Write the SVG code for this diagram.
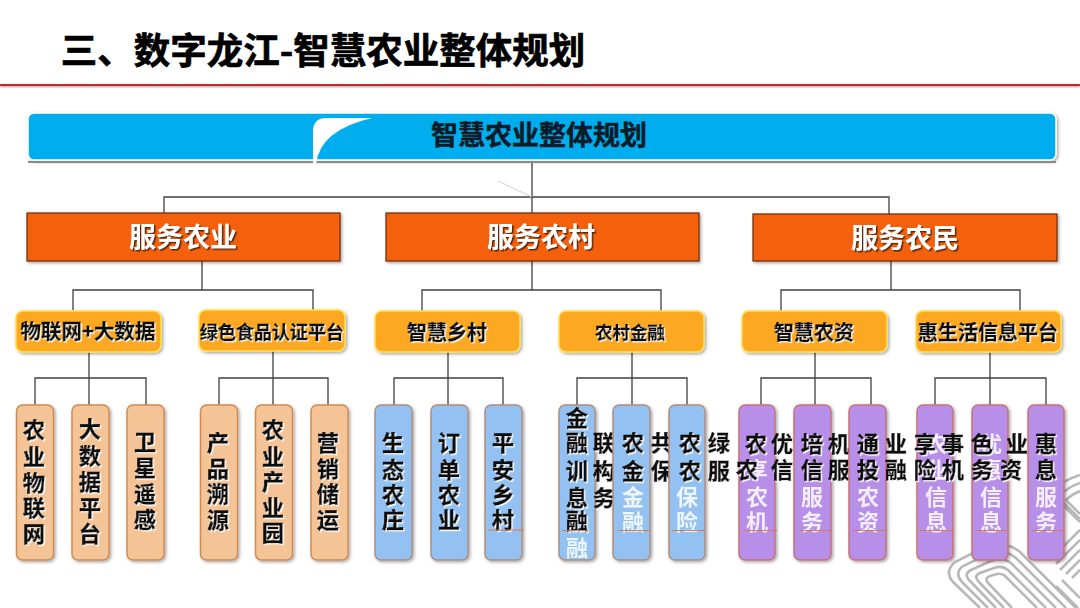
<svg xmlns="http://www.w3.org/2000/svg" width="1080" height="608" viewBox="0 0 1080 608">
<style>
text{font-family:"Noto Sans CJK SC","Liberation Sans",sans-serif;font-weight:700;text-anchor:middle}
.conn{fill:none;stroke:#404040;stroke-width:1.3}
.swirl{fill:none;stroke:#b8b8b8;stroke-width:2.6}
.t1{font-size:27px;fill:#fff;filter:url(#ds)}
.t2{font-size:20px;fill:#111;stroke:#111;stroke-width:.4;filter:url(#ws)}
.t3{font-size:22px;fill:#0a0a0a;stroke:#0a0a0a;stroke-width:.5;filter:url(#ws)}
.g{font-size:22px;fill:#fff;opacity:.85}
.l1{fill:#f5610f;stroke:#6b2a08;stroke-width:1.2;filter:url(#box)}
.l2{fill:#fda823;stroke:#ffdf4d;stroke-width:1.5;filter:url(#box)}
.tan{fill:#f4c497;stroke:#cf8a55;stroke-width:1.5;filter:url(#box)}
.blue{fill:#93c2f2;stroke:#ad8f80;stroke-width:1.5;filter:url(#box)}
.pur{fill:#b78fe8;stroke:#c9727a;stroke-width:1.5;filter:url(#box)}
.tick{stroke:#d97a50;stroke-width:1}
</style>
<defs>
<filter id="box" x="-20%" y="-20%" width="140%" height="140%"><feDropShadow dx="1.5" dy="1.5" stdDeviation="1.5" flood-color="#000" flood-opacity=".35"/></filter>
<filter id="ds" x="-10%" y="-10%" width="125%" height="125%"><feDropShadow dx="1.5" dy="1.5" stdDeviation=".6" flood-color="#3a2008" flood-opacity=".85"/></filter>
<filter id="ws" x="-10%" y="-10%" width="125%" height="125%"><feDropShadow dx="1.2" dy="1.2" stdDeviation=".4" flood-color="#fff" flood-opacity="1"/></filter>
<filter id="ls" x="-5%" y="-200%" width="110%" height="500%"><feDropShadow dx="0" dy="1" stdDeviation="1" flood-color="#000" flood-opacity=".4"/></filter>
</defs>
<rect width="1080" height="608" fill="#fff"/>
<g id="swirl">
<path class="swirl" d="M980,608L953,582Q944,572 955,562L985,547Q1005,540 1020,552L1076,608"/>
<path class="swirl" d="M988,608L962,582Q954,573 963,566L988,554Q1004,548 1016,558L1066,608"/>
<path class="swirl" d="M996,608L970,581Q963,574 971,570L991,561Q1003,556 1012,564L1056,608"/>
<path class="swirl" d="M1004,608L979,582Q973,576 980,573L994,568Q1002,565 1008,570L1046,608"/>
<path class="swirl" d="M1012,608L988,583Q984,578 990,576L997,574Q1002,573 1005,576L1037,608"/>
<path class="swirl" d="M1080,475Q1064,480 1050,492L1080,522"/>
<path class="swirl" d="M1080,483Q1068,487 1058,497L1080,519"/>
<path class="swirl" d="M1080,491Q1072,494 1066,500L1080,514"/>
<path class="swirl" d="M1056,554L1080,530"/>
<path class="swirl" d="M1056,564L1080,540"/>
<path class="swirl" d="M1060,570L1080,550"/>
<path class="swirl" d="M1066,574L1080,560"/>
<path class="swirl" d="M1072,578L1080,570"/>
<path class="swirl" d="M1062,580L1080,598"/>
<path class="swirl" d="M1056,586L1078,608"/>
</g>
<g id="title">
<text x="323" y="64" style="font-size:36.500px;fill:#000;stroke:#000;stroke-width:.7">三、数字龙江-智慧农业整体规划</text>
<rect x="0" y="84" width="1080" height="2" fill="#c22a30" filter="url(#ls)"/>
</g>
<g id="connectors">
<path class="conn" d="M532,160V213M164,213V197H889V214"/>
<path d="M498,181L532,197" fill="none" stroke="#d0d0d0" stroke-width="1"/>
<path class="conn" d="M202,261V290M73,310V290H313V310"/>
<path class="conn" d="M532,261V290M422,311V290H661V311"/>
<path class="conn" d="M891,261V290M781,311V290H1020V311"/>
<path class="conn" d="M89,352V405M35,405V378H146V405"/>
<path class="conn" d="M273,351V405M219,405V378H328V405"/>
<path class="conn" d="M448,352V405M394,405V378H503V405"/>
<path class="conn" d="M632,352V405M577,405V378H687V405"/>
<path class="conn" d="M815,352V405M761,405V378H871V405"/>
<path class="conn" d="M990,352V405M935,405V378H1046V405"/>
</g>
<g id="root">
<rect x="28" y="113" width="1028" height="47" rx="6" fill="#00aeef" stroke="#fff" stroke-width="1.5" filter="url(#box)"/>
<path d="M28,161H1056V163H28Z" fill="#8a8a8a"/>
<path d="M372,118H326Q314,118 313,130V164H316Q320,130 372,118Z" fill="#fff"/>
<text x="539" y="145" style="font-size:27px;fill:#0b1b28;stroke:#0b1b28;stroke-width:.5">智慧农业整体规划</text>
</g>
<g id="n-agri"><rect class="l1" x="27" y="213" width="313" height="48"/><text class="t1" x="183" y="247">服务农业</text></g>
<g id="n-village"><rect class="l1" x="386" y="213" width="313" height="48"/><text class="t1" x="541" y="247">服务农村</text></g>
<g id="n-farmer"><rect class="l1" x="753" y="214" width="304" height="47"/><text class="t1" x="905" y="248">服务农民</text></g>
<g id="p1"><rect class="l2" x="16" y="311" width="145" height="41" rx="7"/><text class="t2" x="88" y="339" style="font-size:20.500px">物联网+大数据</text></g>
<g id="p2"><rect class="l2" x="199" y="310" width="146" height="41" rx="7"/><text class="t2" x="272" y="339" style="font-size:18px">绿色食品认证平台</text></g>
<g id="p3"><rect class="l2" x="375" y="311" width="145" height="41" rx="7"/><text class="t2" x="447" y="340">智慧乡村</text></g>
<g id="p4"><rect class="l2" x="559" y="311" width="145" height="41" rx="7"/><text class="t2" x="630" y="339" style="font-size:17.500px">农村金融</text></g>
<g id="p5"><rect class="l2" x="742" y="311" width="145" height="41" rx="7"/><text class="t2" x="814" y="340">智慧农资</text></g>
<g id="p6"><rect class="l2" x="916" y="311" width="145" height="41" rx="7"/><text class="t2" x="988" y="340">惠生活信息平台</text></g>
<g id="c1"><rect class="tan" x="16.500" y="405" width="37" height="155" rx="6"/><text class="t3" x="34 34 34 34 34" y="438 465 491 516 542">农业物联网</text></g>
<g id="c2"><rect class="tan" x="72" y="405" width="37" height="155" rx="6"/><text class="t3" x="90 90 90 90 90" y="437 464 490 516 542">大数据平台</text></g>
<g id="c3"><rect class="tan" x="127" y="405" width="37" height="155" rx="6"/><text class="t3" x="145 145 145 145" y="450 476 502 528">卫星遥感</text></g>
<g id="c4"><rect class="tan" x="200.500" y="405" width="37" height="155" rx="6"/><text class="t3" x="218 218 218 218" y="451 477 502 528">产品溯源</text></g>
<g id="c5"><rect class="tan" x="255.500" y="405" width="37" height="155" rx="6"/><text class="t3" x="273 273 273 273 273" y="438 465 490 516 541">农业产业园</text></g>
<g id="c6"><rect class="tan" x="311" y="405" width="37" height="155" rx="6"/><text class="t3" x="328 328 328 328" y="451 477 502 528">营销储运</text></g>
<g id="c7"><rect class="blue" x="375" y="405" width="37" height="155" rx="6"/><text class="t3" x="393 393 393 393" y="451 478 503 528">生态农庄</text></g>
<g id="c8"><rect class="blue" x="431" y="405" width="37" height="155" rx="6"/><text class="t3" x="449 449 449 449" y="451 478 503 528">订单农业</text></g>
<g id="c9"><rect class="blue" x="485" y="405" width="37" height="155" rx="6"/><text class="t3" x="503 503 503 503" y="451 478 503 528">平安乡村</text><line class="tick" x1="488" y1="530" x2="524" y2="530"/></g>
<g id="c10"><rect class="blue" x="559" y="405" width="36" height="155" rx="6"/><text class="g" x="577" y="556">融</text><text class="t3" x="577 577 577 577 577" y="426 451 479 506 529">金融训息融</text><line class="tick" x1="562" y1="530.500" x2="588" y2="530.500"/><text class="t3" x="604 604 604" y="451 479 506">联构务</text></g>
<g id="c11"><rect class="blue" x="613" y="405" width="37" height="155" rx="6"/><text class="g" x="633 633" y="505 530">金融</text><text class="t3" x="633 633" y="451 479">农金</text><line class="tick" x1="618" y1="530.500" x2="650" y2="530.500"/><text class="t3" x="662 662" y="451 479">共保</text></g>
<g id="c12"><rect class="blue" x="669" y="405" width="36" height="155" rx="6"/><text class="g" x="687 687" y="505 530">保险</text><text class="t3" x="690 690" y="451 479">农农</text><line class="tick" x1="672" y1="530.500" x2="705" y2="530.500"/><text class="t3" x="719 719" y="451 479">绿服</text></g>
<g id="c13"><rect class="pur" x="739" y="405" width="36" height="155" rx="6"/><text class="g" x="757 757 757" y="478 505 530">享农机</text><text class="t3" x="756 747" y="452 478">农农</text><line class="tick" x1="743" y1="530.500" x2="777" y2="530.500"/><text class="t3" x="782 782" y="452 478">优信</text></g>
<g id="c14"><rect class="pur" x="794" y="405" width="37" height="155" rx="6"/><text class="g" x="812 812" y="505 530">服务</text><text class="t3" x="812 812" y="452 478">培信</text><line class="tick" x1="800" y1="530.500" x2="831" y2="530.500"/><text class="t3" x="839 839" y="452 478">机服</text></g>
<g id="c15"><rect class="pur" x="849" y="405" width="37" height="155" rx="6"/><text class="g" x="868 868" y="505 530">农资</text><text class="t3" x="868 868" y="452 478">通投</text><line class="tick" x1="853" y1="530.500" x2="887" y2="530.500"/><text class="t3" x="896 896" y="452 478">业融</text></g>
<g id="c16"><rect class="pur" x="917" y="405" width="36" height="155" rx="6"/><text class="g" x="936 936 936 936" y="452 478 505 530">农业信息</text><text class="t3" x="925 925" y="452 478">享险</text><line class="tick" x1="920" y1="530.500" x2="954" y2="530.500"/><text class="t3" x="953 953" y="452 478">事机</text></g>
<g id="c17"><rect class="pur" x="972" y="405" width="36" height="155" rx="6"/><text class="g" x="991 991 991 991" y="452 478 505 530">优惠信息</text><text class="t3" x="982 982" y="452 478">色务</text><line class="tick" x1="976" y1="530.500" x2="1008" y2="530.500"/><text class="t3" x="1017 1011" y="452 478">业资</text></g>
<g id="c18"><rect class="pur" x="1028" y="405" width="36" height="155" rx="6"/><text class="g" x="1046 1046" y="505 530">服务</text><text class="t3" x="1046 1046" y="452 478">惠息</text><line class="tick" x1="1032" y1="530.500" x2="1064" y2="530.500"/></g>
</svg>
